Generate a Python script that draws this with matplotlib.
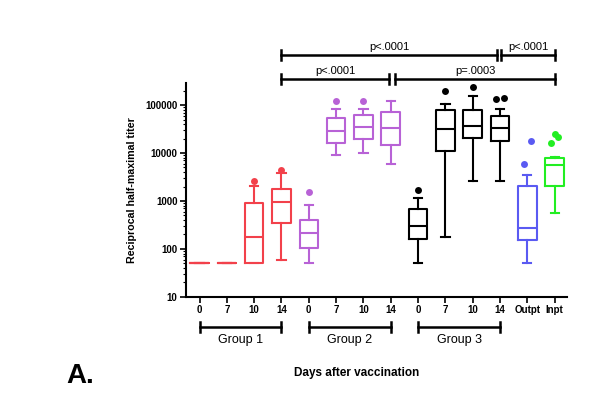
import numpy as np
import matplotlib
matplotlib.use('Agg')
import matplotlib.pyplot as plt

plt.rcParams['font.family'] = ['Liberation Sans', 'DejaVu Sans']

# categories along the x axis
tick_labels = ['0', '7', '10', '14', '0', '7', '10', '14', '0', '7', '10', '14', 'Outpt', 'Inpt']
box_colors = ['#f2414b'] * 4 + ['#b862d6'] * 4 + ['#000000'] * 4 + ['#5a5af2', '#22ee22']

# box statistics
q1 = [50, 50, 50, 350, 105, 16000, 20000, 15000, 162, 11000, 21000, 18000, 155, 2100]
med = [50, 50, 180, 930, 210, 29000, 35000, 34000, 300, 32000, 37000, 34000, 275, 5600]
q3 = [50, 50, 910, 1750, 400, 55000, 61000, 71000, 680, 78000, 79000, 59000, 2040, 7900]
whislo = [50, 50, 50, 60, 50, 9100, 9800, 6000, 50, 180, 2600, 2600, 50, 570]
whishi = [50, 50, 2050, 3800, 820, 81000, 81000, 124000, 1150, 105000, 155000, 84000, 3550, 8300]
fliers = [[], [], [2600], [4400], [1550], [124000], [124000], [], [1700], [200000], [235000],
          [132000, 142000], [5900, 17500], [16000, 24500, 21500]]

group_names = ['Group 1', 'Group 2', 'Group 3']
group_spans = [(0, 3), (4, 7), (8, 11)]

# significance brackets: (start, end, text, row)
comparisons = [(3, 10.9, 'p<.0001', 0), (11.05, 13, 'p<.0001', 0),
               (3, 6.93, 'p<.0001', 1), (7.17, 13, 'p=.0003', 1)]

fig = plt.figure(figsize=(5.9, 4.05), dpi=100)
ax = fig.add_axes([0.315, 0.267, 0.646, 0.528])

positions = np.arange(len(tick_labels))
lw = 1.5
for i, pos in enumerate(positions):
    c = box_colors[i]
    st = [dict(med=med[i], q1=q1[i], q3=q3[i], whislo=whislo[i], whishi=whishi[i], fliers=[])]
    ax.bxp(st, positions=[pos], widths=0.68, showfliers=False,
           boxprops=dict(color=c, lw=lw), medianprops=dict(color=c, lw=lw),
           whiskerprops=dict(color=c, lw=lw), capprops=dict(color=c, lw=lw),
           capwidths=0.3, manage_ticks=False)
    fl = fliers[i]
    if fl:
        offs = np.linspace(-0.13, 0.13, len(fl)) if len(fl) > 1 else [0]
        ax.plot(pos + np.asarray(offs), fl, 'o', color=c, ms=5, mec='none', clip_on=False)

ax.set_yscale('log')
ax.set_ylim(10, 10 ** 5.46)
ax.set_xlim(-0.5, 13.45)
ax.set_xticks(positions)
ax.set_xticklabels(tick_labels, fontsize=7, fontweight='bold')
ax.set_yticks([10, 100, 1000, 10000, 100000])
ax.set_yticklabels(['10', '100', '1000', '10000', '100000'], fontsize=7, fontweight='bold')
ax.yaxis.set_minor_locator(matplotlib.ticker.LogLocator(base=10, subs=np.arange(2, 10)))
ax.yaxis.set_minor_formatter(matplotlib.ticker.NullFormatter())
ax.tick_params(axis='both', which='major', length=4, width=1.2, pad=2)
ax.tick_params(axis='y', which='minor', length=2, width=0.8)
for s in ['top', 'right']:
    ax.spines[s].set_visible(False)
for s in ['left', 'bottom']:
    ax.spines[s].set_linewidth(1.5)

ax.set_ylabel('Reciprocal half-maximal titer', fontsize=7.7, fontweight='bold')
ax.yaxis.set_label_coords(-0.129, 0.5)

tr = ax.get_xaxis_transform()

# group brackets below the axis
for name, (a, b) in zip(group_names, group_spans):
    y = -0.14
    ax.plot([a, b], [y, y], color='black', lw=1.8, transform=tr, clip_on=False)
    for x in (a, b):
        ax.plot([x, x], [y - 0.022, y + 0.022], color='black', lw=1.8, transform=tr, clip_on=False)
    ax.text((a + b) / 2, y - 0.035, name, ha='center', va='top', fontsize=9, transform=tr)

# significance brackets above
row_y = [1.131, 1.019]
for a, b, txt, row in comparisons:
    y = row_y[row]
    ax.plot([a, b], [y, y], color='black', lw=1.8, transform=tr, clip_on=False)
    for x in (a, b):
        ax.plot([x, x], [y - 0.022, y + 0.022], color='black', lw=1.8, transform=tr, clip_on=False)
    ax.text((a + b) / 2, y + 0.015, txt, ha='center', va='bottom', fontsize=8, transform=tr)

fig.text(0.605, 0.079, 'Days after vaccination', ha='center', va='center', fontsize=8.5, fontweight='bold')
fig.text(0.112, 0.072, 'A.', ha='left', va='center', fontsize=20, fontweight='bold')

fig.savefig('out.png', dpi=100)
